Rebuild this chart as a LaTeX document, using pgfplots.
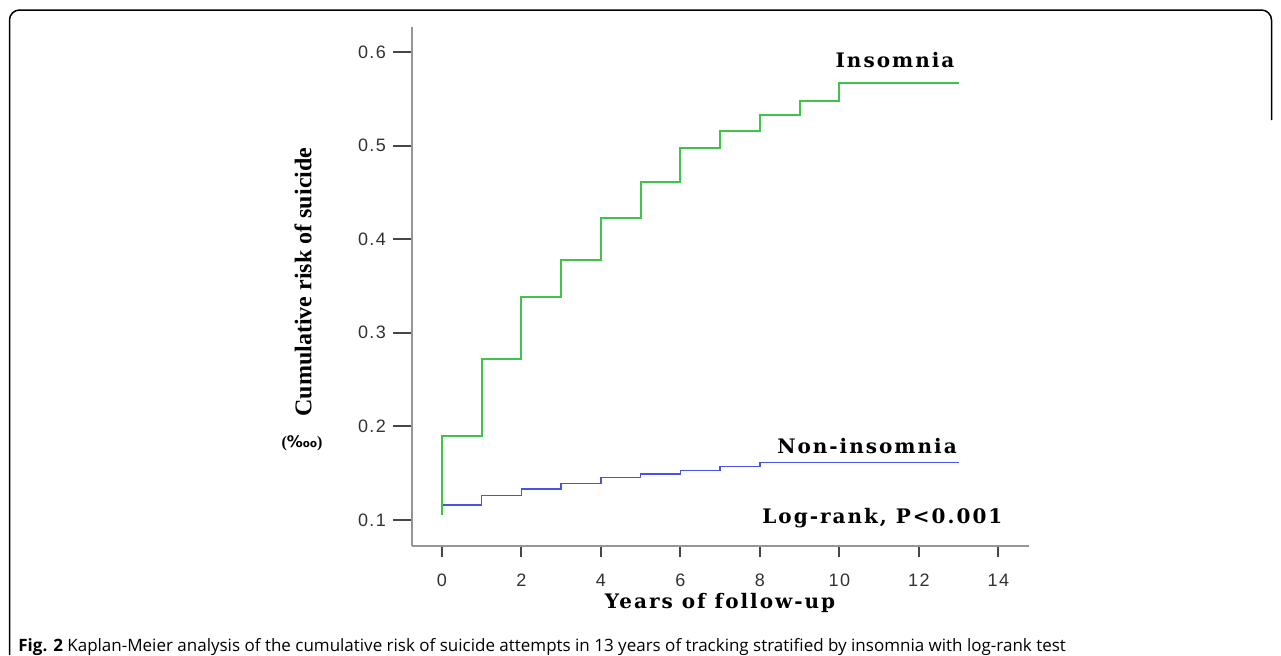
\documentclass[border=0pt]{standalone}
\usepackage{pgfplots}
\pgfplotsset{compat=1.18}
\usepackage{fontspec}
\setmainfont{Liberation Serif}
\newfontfamily\tickfont[LetterSpace=8]{Liberation Sans}
\newfontfamily\capfont{Open Sans}
\newfontfamily\lblfont[LetterSpace=10]{DejaVu Serif}
\newfontfamily\symfont{DejaVu Sans}
\definecolor{kmgreen}{RGB}{64,196,72}
\definecolor{kmblue}{RGB}{72,84,220}
\definecolor{axgray}{RGB}{150,150,150}
\definecolor{tickgray}{RGB}{70,70,70}
\definecolor{labgray}{RGB}{50,50,50}

\begin{document}
\begin{tikzpicture}[x=0.5pt,y=-0.5pt]
\path[use as bounding box] (0,0) rectangle (1281,655);
\draw[line width=0.75pt, rounded corners=5pt] (9.5,655) -- (9.5,10) -- (1271.5,10) -- (1271.5,120);
\begin{axis}[
  at={(206pt,-273pt)}, anchor=south west,
  scale only axis, width=308.5pt, height=259.5pt,
  xmin=-0.75, xmax=14.77, ymin=0.072, ymax=0.627,
  axis x line*=bottom, axis y line*=left,
  axis line style={axgray, line width=1pt},
  xtick={0,2,...,14}, ytick={0.1,0.2,0.3,0.4,0.5,0.6},
  tick align=outside,
  major tick length=9.5pt,
  x tick style={tickgray, line width=1pt, /pgfplots/major tick length=5.5pt},
  y tick style={tickgray, line width=1pt},
  tick label style={font=\tickfont\fontsize{9}{10}\selectfont, text=labgray},
  /pgf/number format/assume math mode=true,
  yticklabel style={/pgf/number format/fixed, /pgf/number format/fixed zerofill, /pgf/number format/precision=1, xshift=0pt},
  xticklabel style={yshift=-1pt},
  clip=false,
]
\addplot[const plot, kmblue, line width=0.7pt] coordinates {
 (0,0.116) (1,0.1257) (2,0.133) (3,0.139) (4,0.145) (5,0.149) (6,0.153) (7,0.157) (8,0.161) (13,0.161)};
\addplot[const plot, kmgreen, line width=1pt] coordinates {
 (0,0.105) (0,0.19) (1,0.272) (2,0.338) (3,0.378) (4,0.423) (5,0.461) (6,0.498) (7,0.516) (8,0.533) (9,0.548) (10,0.567) (13,0.567)};
\end{axis}
\node[rotate=90, font=\bfseries\fontsize{12}{14}\selectfont] at (303,282) {Cumulative risk of suicide};
\node[font=\bfseries\fontsize{8}{10}\selectfont] at (302,443) {(\symfont\bfseries ‱\rmfamily)};
\node[font=\lblfont\bfseries\fontsize{10}{12}\selectfont] at (895,60) {Insomnia};
\node[font=\lblfont\bfseries\fontsize{10}{12}\selectfont] at (867,446) {Non-insomnia};
\node[font=\lblfont\bfseries\fontsize{10}{12}\selectfont, anchor=west, inner sep=0pt] at (762,518) {Log-rank, P<0.001};
\node[font=\lblfont\bfseries\fontsize{10}{12}\selectfont] at (720,603) {Years of follow-up};
\node[font=\capfont\fontsize{8.5}{10}\selectfont, anchor=base west, inner sep=0pt] at (18,651) {\textbf{Fig. 2} Kaplan-Meier analysis of the cumulative risk of suicide attempts in 13 years of tracking stratified by insomnia with log-rank test};
\end{tikzpicture}
\end{document}
